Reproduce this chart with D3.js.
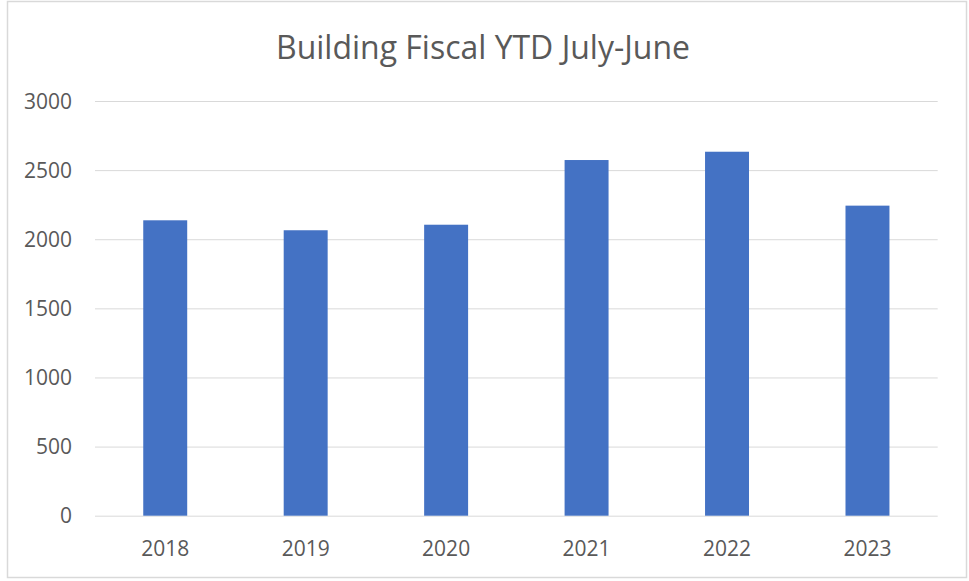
<!DOCTYPE html>
<html>
<head>
<meta charset="utf-8">
<script src="https://cdn.jsdelivr.net/npm/d3@7"></script>
<style>
  body { margin: 0; background: #fff; }
  svg text { font-family: 'Open Sans', sans-serif; fill: #595959; }
  .axis .domain { display: none; }
  .y.axis line { stroke: #d9d9d9; }
  .x.axis line { display: none; }
</style>
</head>
<body>
<svg id="chart" width="969" height="581"></svg>
<script>
const years = ['2018', '2019', '2020', '2021', '2022', '2023'];
const totals = [2137, 2065, 2105, 2573, 2633, 2243];
const yTicks = [0, 500, 1000, 1500, 2000, 2500, 3000];
const title = 'Building Fiscal YTD July-June';

const margin = { top: 101, right: 31, bottom: 65, left: 95 };
const width = 937.7 - margin.left;
const height = 515.7 - margin.top;

const root = d3.select('#chart');

// outer chart border
root.append('rect')
  .attr('x', 7.5)
  .attr('y', 1.5)
  .attr('width', 959)
  .attr('height', 576)
  .attr('fill', '#fff')
  .attr('stroke', '#d9d9d9')
  .attr('stroke-width', 1.5);

root.append('text')
  .attr('x', 483)
  .attr('y', 59)
  .attr('text-anchor', 'middle')
  .style('font-size', '33px')
  .attr('textLength', 414)
  .attr('lengthAdjust', 'spacingAndGlyphs')
  .text(title);

const svg = root.append('g')
  .attr('transform', `translate(${margin.left}, ${margin.top})`);

const xScale = d3.scaleBand()
  .domain(years)
  .range([0, width])
  .paddingInner(0.687)
  .paddingOuter(0.687 / 2);

const yScale = d3.scaleLinear()
  .domain([0, 3000])
  .range([height, 0]);

svg.append('g')
  .attr('class', 'y axis')
  .call(d3.axisLeft(yScale).tickValues(yTicks).tickFormat(d3.format('d')).tickSize(-width).tickPadding(23))
  .call(g => g.selectAll('text').style('font-size', '21px').attr('dy', '0.34em'));

svg.append('g')
  .attr('class', 'x axis')
  .attr('transform', `translate(0, ${height})`)
  .call(d3.axisBottom(xScale).tickSize(0).tickPadding(25))
  .call(g => g.selectAll('text').style('font-size', '21px'));

svg.selectAll('rect.bar')
  .data(totals)
  .enter().append('rect')
  .attr('class', 'bar')
  .attr('x', (d, i) => xScale(years[i]))
  .attr('y', d => yScale(d))
  .attr('width', xScale.bandwidth())
  .attr('height', d => height - yScale(d))
  .attr('fill', '#4472c4');
</script>
</body>
</html>
